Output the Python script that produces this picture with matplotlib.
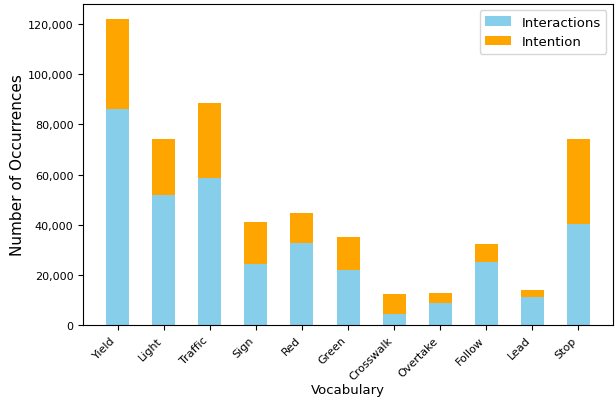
import matplotlib.pyplot as plt
import matplotlib.ticker as mticker
import numpy as np

# vocabulary counts
words = ['Yield', 'Light', 'Traffic', 'Sign', 'Red', 'Green',
         'Crosswalk', 'Overtake', 'Follow', 'Lead', 'Stop']
interactions = [86000, 52000, 58500, 24400, 32900, 21900, 4250, 8600, 25200, 11000, 40300]
intention = [36000, 22300, 30000, 16500, 11600, 13100, 8300, 4250, 7100, 3000, 33900]

x = np.arange(len(words))

fig, ax = plt.subplots(figsize=(6.16, 4.02), dpi=100)
ax.bar(x, interactions, width=0.5, color='skyblue', label='Interactions')
ax.bar(x, intention, width=0.5, bottom=interactions, color='orange', label='Intention')

ax.set_xticks(x)
ax.set_xticklabels(words, rotation=45, ha='right', fontsize=8)
ax.tick_params(axis='y', labelsize=8)
ax.yaxis.set_major_formatter(mticker.FuncFormatter(lambda v, p: f'{int(v):,}'))
ax.set_xlim(-0.75, len(words) - 0.25)
ax.set_xlabel('Vocabulary', fontsize=9.5)
ax.set_ylabel('Number of Occurrences', fontsize=11)
ax.xaxis.set_label_coords(0.5, -0.182)
ax.yaxis.set_label_coords(-0.109, 0.5)
ax.legend(loc='upper right', fontsize=9.5)

plt.subplots_adjust(left=0.135, right=0.995, top=0.988, bottom=0.189)
plt.savefig('out.png')
